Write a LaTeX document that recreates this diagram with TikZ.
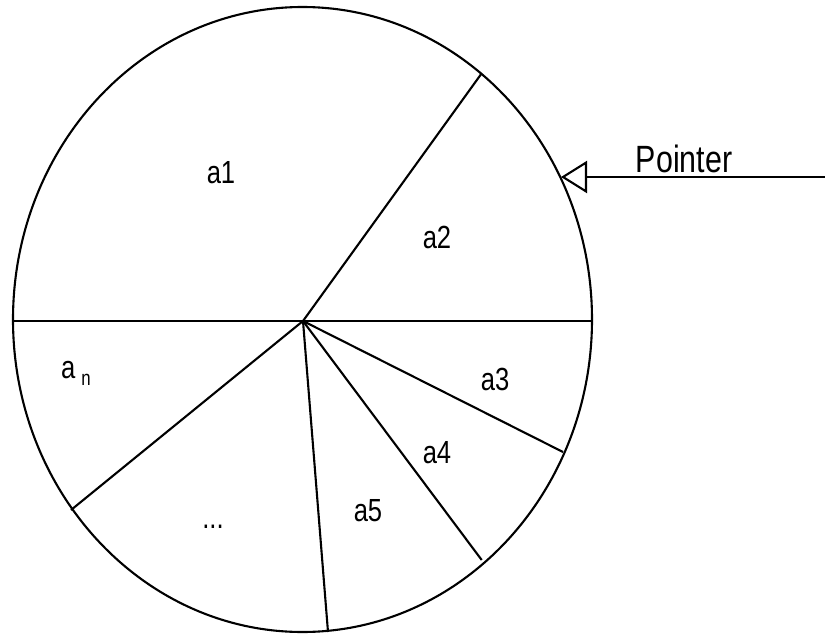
\documentclass[tikz,border=0pt]{standalone}
\usepackage{fontspec}
\setmainfont{Liberation Sans}[FakeStretch=0.8]
\usetikzlibrary{arrows.meta}
\begin{document}
\begin{tikzpicture}[x=1pt,y=-1pt,
  edge/.style={line width=2.1pt,black},
  lbl/.style={anchor=base,inner sep=0pt,font=\fontsize{32}{38}\selectfont},
  ptr/.style={line width=2.1pt,-{Triangle[open,length=26pt,width=32pt,line width=2.1pt]}}]
\useasboundingbox (0,0) rectangle (825,634);
\coordinate (c) at (303,321);
\coordinate (pl) at (13,321);
\coordinate (pr) at (592,321);
\coordinate (p1) at (481.7,73.3);
\coordinate (p3) at (563,452);
\coordinate (p4) at (481.7,560);
\coordinate (p5) at (328,632);
\coordinate (p6) at (71,510);
\draw[edge] (302.5,319.5) ellipse [x radius=289.5, y radius=312.5];
\draw[edge] (pl) -- (pr);
\draw[edge] (c) -- (p1);
\draw[edge] (c) -- (p3);
\draw[edge] (c) -- (p4);
\draw[edge] (c) -- (p5);
\draw[edge] (c) -- (p6);
\coordinate (ps) at (825,177);
\coordinate (pt) at (561,177);
\draw[ptr] (ps) -- (pt);
\node[lbl,font=\fontsize{38}{44}\selectfont] (pointer) at (684,172) {Pointer};
\node[lbl] (a1) at (221,183) {a1};
\node[lbl] (a2) at (437,248) {a2};
\node[lbl] (a3) at (495,390) {a3};
\node[lbl] (a4) at (437,463) {a4};
\node[lbl] (a5) at (368,521) {a5};
\node[lbl] (dots) at (213,528) {...};
\node[lbl] (an) at (76,378) {a\hspace{6pt}\raisebox{-7pt}{\fontsize{21}{24}\selectfont n}};
\end{tikzpicture}
\end{document}
